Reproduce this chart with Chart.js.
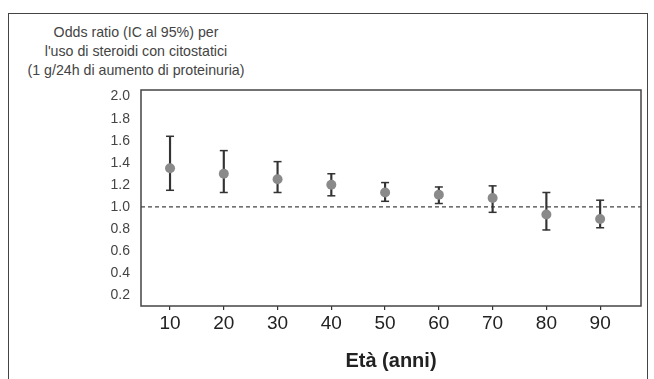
<!DOCTYPE html>
<html><head><meta charset="utf-8">
<script src="https://cdn.jsdelivr.net/npm/chart.js@4/dist/chart.umd.min.js"></script>
<style>
html,body{margin:0;padding:0;background:#fff;}
#wrap{position:relative;width:654px;height:379px;overflow:hidden;background:#fff;}
#frame{position:absolute;left:8px;top:13px;width:640px;height:420px;border:1.5px solid #444;box-sizing:border-box;}
#ytitle{position:absolute;left:8px;width:256px;top:23px;font-family:"Liberation Sans",Arial,sans-serif;font-size:14.2px;color:#444;text-align:center;line-height:19px;}
#c{position:absolute;left:0;top:0;}
</style></head>
<body>
<div id="wrap">
  <div id="frame"></div>
  <div id="ytitle">Odds ratio (IC al 95%) per<br>l'uso di steroidi con citostatici<br>(1 g/24h di aumento di proteinuria)</div>
  <canvas id="c" width="654" height="379"></canvas>
</div>
<script>
const ages = [10, 20, 30, 40, 50, 60, 70, 80, 90];
const oddsRatio = [1.35, 1.30, 1.25, 1.20, 1.13, 1.11, 1.08, 0.93, 0.89];
const ciLow = [1.15, 1.13, 1.13, 1.10, 1.05, 1.03, 0.95, 0.79, 0.81];
const ciHigh = [1.64, 1.51, 1.41, 1.30, 1.22, 1.18, 1.19, 1.13, 1.06];
const yTickValues = [0.2, 0.4, 0.6, 0.8, 1.0, 1.2, 1.4, 1.6, 1.8, 2.0];
const xTickValues = [10, 20, 30, 40, 50, 60, 70, 80, 90];
const refValue = 1.0;
const xMin = 4.6, xMax = 97.6, yMin = 0.1, yMax = 2.06;

Chart.defaults.font.family = '"Liberation Sans", Arial, sans-serif';
Chart.defaults.animation = false;

const framePlugin = {
  id: 'frame',
  afterDatasetsDraw(chart) {
    const {ctx, chartArea: a} = chart;
    ctx.save();
    ctx.strokeStyle = '#444';
    ctx.lineWidth = 1.5;
    ctx.strokeRect(a.left, a.top, a.right - a.left, a.bottom - a.top);
    ctx.restore();
  }
};

const caps = [];
ages.forEach((a, i) => { caps.push({x: a, y: ciLow[i]}); caps.push({x: a, y: ciHigh[i]}); });

new Chart(document.getElementById('c'), {
  type: 'scatter',
  data: {
    datasets: [
      { type: 'scatter', data: ages.map((a, i) => ({x: a, y: oddsRatio[i]})),
        pointRadius: 5, pointHoverRadius: 5, backgroundColor: '#8a8a8a', borderColor: '#8a8a8a', borderWidth: 0, order: 0 },
      { type: 'scatter', data: caps, pointStyle: 'line', pointRadius: 4, pointHoverRadius: 4,
        borderColor: '#333', borderWidth: 1.5, order: 1 },
      { type: 'bar', data: ages.map((a, i) => ({x: a, y: [ciLow[i], ciHigh[i]]})),
        barThickness: 1.5, backgroundColor: '#333', borderWidth: 0, order: 2 },
      { type: 'line', data: [{x: xMin, y: refValue}, {x: xMax, y: refValue}],
        borderColor: '#444', borderDash: [4, 3], borderWidth: 1.2, pointRadius: 0, order: 3 }
    ]
  },
  options: {
    responsive: false,
    animation: false,
    layout: { padding: { left: 0, top: 90, right: 13, bottom: 0 } },
    plugins: { legend: { display: false }, tooltip: { enabled: false }, title: { display: false } },
    scales: {
      x: {
        type: 'linear', min: xMin, max: xMax, offset: false,
        afterBuildTicks: s => { s.ticks = xTickValues.map(v => ({value: v})); },
        afterFit: s => { s.height = 73; },
        grid: { display: true, drawOnChartArea: false, drawTicks: true, tickLength: 4, color: '#333', lineWidth: 1.2, offset: false },
        border: { display: false },
        ticks: { font: { size: 19 }, color: '#222', padding: 2, maxRotation: 0, autoSkip: false },
        title: { display: true, text: 'Età (anni)', font: { size: 20, weight: 'bold' }, color: '#222', padding: { top: 0, bottom: 6 } }
      },
      y: {
        type: 'linear', min: yMin, max: yMax,
        afterBuildTicks: s => { s.ticks = yTickValues.map(v => ({value: v})); },
        afterFit: s => { s.width = 141; },
        grid: { display: false, drawTicks: false },
        border: { display: false },
        ticks: { font: { size: 14 }, color: '#444', padding: 11, callback: v => Number(v).toFixed(1) }
      }
    }
  },
  plugins: [framePlugin]
});
</script>
</body></html>
